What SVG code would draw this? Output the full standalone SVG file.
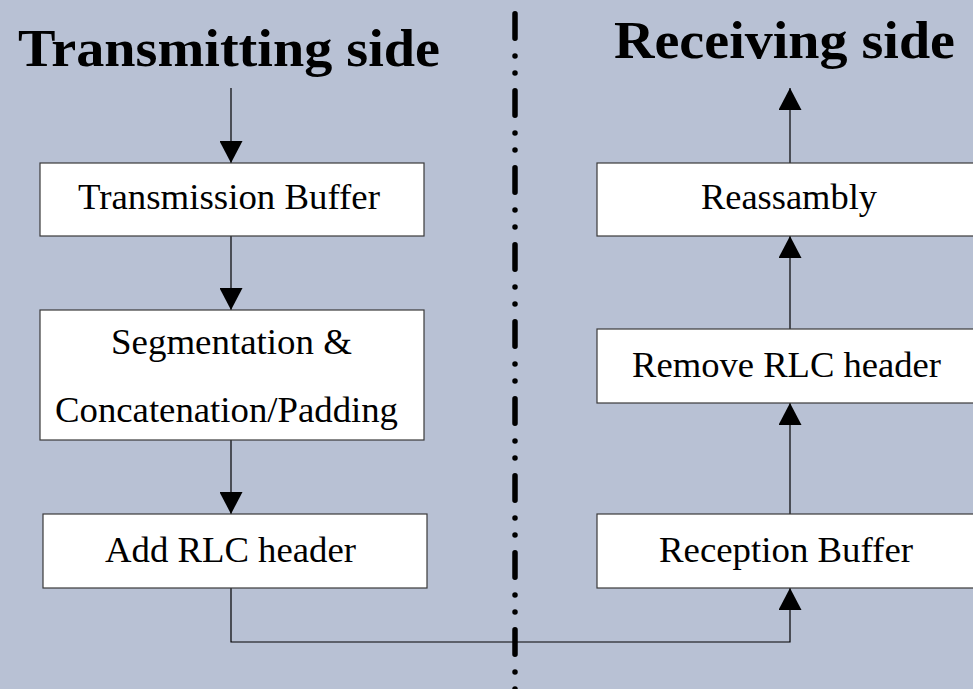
<svg xmlns="http://www.w3.org/2000/svg" width="973" height="689" viewBox="0 0 973 689">
  <style>
    .box { fill: #ffffff; stroke: #3a3a3a; stroke-width: 1.2; }
    .lbl { font-family: "Liberation Serif", "Times New Roman", serif; font-size: 36px; fill: #000; text-anchor: middle; }
    .title { font-family: "Liberation Serif", "Times New Roman", serif; font-size: 52px; font-weight: bold; fill: #000; }
    .wire { fill: none; stroke: #000; stroke-width: 1.2; }
  </style>
  <defs>
    <marker id="tip" viewBox="0 0 22 23" refX="22" refY="11.5" markerWidth="22" markerHeight="23" markerUnits="userSpaceOnUse" orient="auto">
      <path d="M0,0 L22,11.5 L0,23 Z" fill="#000"/>
    </marker>
  </defs>

  <rect width="973" height="689" fill="#b8c1d4"/>

  <!-- dividing dash-dot line -->
  <line x1="515" y1="13.75" x2="515" y2="700" stroke="#000" stroke-width="5.5" stroke-linecap="round" stroke-dasharray="24.5 17.75 0 17 0 17.75"/>

  <text class="title" x="18" y="66" textLength="422" lengthAdjust="spacingAndGlyphs">Transmitting side</text>
  <text class="title" x="614" y="58" textLength="341" lengthAdjust="spacingAndGlyphs">Receiving side</text>

  <g id="connectors">
    <line class="wire" x1="231" y1="88" x2="231" y2="163" marker-end="url(#tip)"/>
    <line class="wire" x1="231" y1="236" x2="231" y2="310" marker-end="url(#tip)"/>
    <line class="wire" x1="231" y1="440" x2="231" y2="514" marker-end="url(#tip)"/>
    <polyline class="wire" points="231,588 231,642 790,642 790,588" marker-end="url(#tip)"/>
    <line class="wire" x1="790" y1="514" x2="790" y2="403" marker-end="url(#tip)"/>
    <line class="wire" x1="790" y1="329" x2="790" y2="236" marker-end="url(#tip)"/>
    <line class="wire" x1="790" y1="163" x2="790" y2="88" marker-end="url(#tip)"/>
  </g>

  <g id="tx-buffer">
    <rect class="box" x="40" y="163" width="384" height="73"/>
    <text class="lbl" x="229" y="209" textLength="302" lengthAdjust="spacingAndGlyphs">Transmission Buffer</text>
  </g>
  <g id="segmentation">
    <rect class="box" x="40" y="310" width="384" height="130"/>
    <text class="lbl" x="231.5" y="354" textLength="241" lengthAdjust="spacingAndGlyphs">Segmentation &amp;</text>
    <text class="lbl" x="226.5" y="422" textLength="343" lengthAdjust="spacingAndGlyphs">Concatenation/Padding</text>
  </g>
  <g id="add-header">
    <rect class="box" x="43" y="514" width="384" height="74"/>
    <text class="lbl" x="230.5" y="562" textLength="251" lengthAdjust="spacingAndGlyphs">Add RLC header</text>
  </g>
  <g id="reassembly">
    <rect class="box" x="597" y="163" width="390" height="73"/>
    <text class="lbl" x="789" y="209" textLength="176" lengthAdjust="spacingAndGlyphs">Reassambly</text>
  </g>
  <g id="remove-header">
    <rect class="box" x="597" y="329" width="390" height="74"/>
    <text class="lbl" x="786.5" y="377" textLength="309" lengthAdjust="spacingAndGlyphs">Remove RLC header</text>
  </g>
  <g id="rx-buffer">
    <rect class="box" x="597" y="514" width="390" height="74"/>
    <text class="lbl" x="786" y="562" textLength="254" lengthAdjust="spacingAndGlyphs">Reception Buffer</text>
  </g>
</svg>
